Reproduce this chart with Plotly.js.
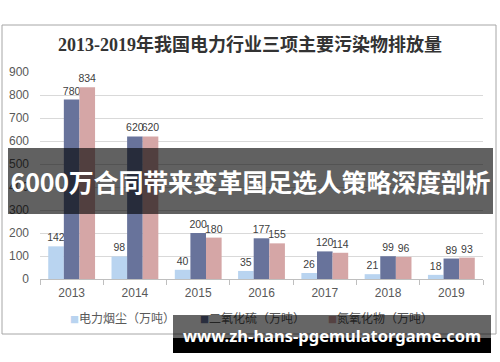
<!DOCTYPE html>
<html>
<head>
<meta charset="utf-8">
<script src="https://cdn.plot.ly/plotly-3.0.1.min.js"></script>
<style>
  html, body { margin:0; padding:0; background:#fff; }
  #wrap { position:relative; width:500px; height:362px; overflow:hidden; }
  #chart { position:absolute; left:0; top:0; width:500px; height:362px; }
  .band { position:absolute; color:#fff; font-weight:bold; white-space:nowrap; text-align:center; }
</style>
</head>
<body>
<div id="wrap">
  <div id="chart"></div>
  <div class="band" style="left:8px;top:148px;width:485px;height:66px;line-height:66px;background:rgba(0,0,0,0.62);font-family:'Noto Sans CJK SC';font-size:25px;letter-spacing:-0.2px;">6000万合同带来变革国足选人策略深度剖析</div>
  <div style="position:absolute;left:173px;top:315px;width:318px;height:23px;background:rgba(0,0,0,0.6);"></div>
  <div style="position:absolute;left:173px;top:338px;width:318px;height:15px;background:#000;"></div>
  <div class="band" style="left:173px;top:324px;width:318px;height:24px;line-height:24px;font-family:'Noto Sans';font-size:16.5px;">www.zh-hans-pgemulatorgame.com</div>
</div>
<script>
var years = ['2013', '2014', '2015', '2016', '2017', '2018', '2019'];
var dust = [142, 98, 40, 35, 26, 21, 18];
var so2  = [780, 620, 200, 177, 120, 99, 89];
var nox  = [834, 620, 180, 155, 114, 96, 93];
var names = ['电力烟尘（万吨）', '二氧化硫（万吨）', '氮氧化物（万吨）'];
var colors = ['#b9d4f0', '#68739b', '#d5a6a6'];
var yTicks = [0, 100, 200, 300, 400, 500, 600, 700, 800, 900];

var FONT = 'Liberation Sans, Noto Sans CJK SC, sans-serif';

function barTrace(vals, i) {
  return {
    type: 'bar', x: years, y: vals, name: names[i],
    marker: { color: colors[i], line: { width: 0 } },
    text: vals.map(String), textposition: 'outside', constraintext: 'none',
    cliponaxis: false,
    textfont: { family: FONT, size: 10.5, color: '#404040' },
    hoverinfo: 'none', showlegend: false
  };
}

var data = [barTrace(dust, 0), barTrace(so2, 1), barTrace(nox, 2)];

// plot area: x 40..483, y 72..279 (px)
var L = 40, R = 483, T = 72, B = 279;
function px(x) { return (x - L) / (R - L); }
function py(y) { return (B - y) / (B - T); }

var legendX = [68, 198, 326];
var annotations = [];
names.forEach(function (n, i) {
  annotations.push({
    xref: 'paper', yref: 'paper', x: px(legendX[i]), y: py(317),
    xanchor: 'left', yanchor: 'middle', showarrow: false,
    text: '<span style="color:' + colors[i] + ';font-size:9px">■</span>' + n,
    font: { family: 'Noto Sans CJK SC', size: 12, color: '#595959' }
  });
});

var layout = {
  width: 500, height: 362,
  margin: { l: L, r: 500 - R, t: T, b: 362 - B, pad: 0 },
  paper_bgcolor: 'rgba(0,0,0,0)', plot_bgcolor: 'rgba(0,0,0,0)',
  title: {
    text: '<b>2013-2019年我国电力行业三项主要污染物排放量</b>',
    x: 0.5, xanchor: 'center', xref: 'container',
    y: 1 - 45 / 362, yanchor: 'middle', yref: 'container',
    font: { family: 'Liberation Serif, Noto Sans CJK SC, serif', size: 18, color: '#333333' }
  },
  barmode: 'group', bargap: 0.26, bargroupgap: 0,
  xaxis: {
    type: 'category', showline: true, linecolor: '#bfbfbf', linewidth: 1,
    ticks: 'outside', tickson: 'boundaries', ticklen: 5, tickcolor: '#bfbfbf',
    showgrid: false, zeroline: false, ticklabelstandoff: 3,
    tickfont: { family: FONT, size: 12, color: '#595959' }
  },
  yaxis: {
    range: [0, 900], tickvals: yTicks, ticktext: yTicks.map(String),
    showgrid: true, gridcolor: '#d9d9d9', gridwidth: 1, zeroline: false,
    showline: false, ticks: '', ticklabelstandoff: 10,
    tickfont: { family: FONT, size: 12, color: '#595959' }
  },
  shapes: [{
    type: 'rect', xref: 'paper', yref: 'paper', layer: 'below',
    x0: px(2), x1: px(496), y0: py(334), y1: py(25),
    line: { color: '#a6a6a6', width: 1 }, fillcolor: 'rgba(0,0,0,0)'
  }],
  annotations: annotations
};

Plotly.newPlot('chart', data, layout, { displayModeBar: false, staticPlot: true });
</script>
</body>
</html>
